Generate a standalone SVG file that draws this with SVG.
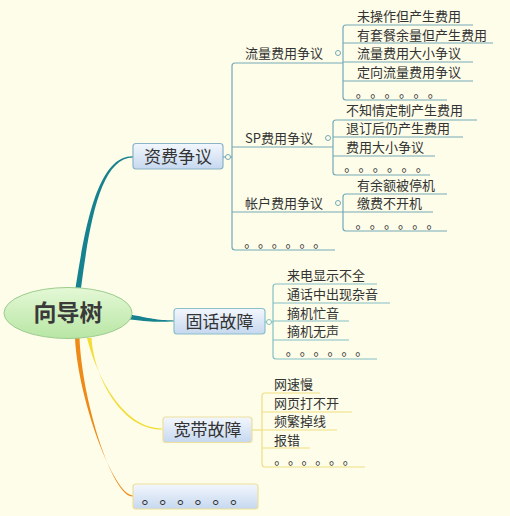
<svg xmlns="http://www.w3.org/2000/svg" width="510" height="516" viewBox="0 0 510 516">
<defs>
<linearGradient id="boxg" x1="0" y1="0" x2="0" y2="1">
<stop offset="0" stop-color="#f3f7fd"/>
<stop offset="1" stop-color="#c6d8ef"/>
</linearGradient>
<linearGradient id="rootg" x1="0" y1="0" x2="0" y2="1">
<stop offset="0" stop-color="#e4f8d6"/>
<stop offset="1" stop-color="#b8e6a4"/>
</linearGradient>
</defs>
<style>
text{font-family:"Microsoft YaHei","Noto Sans CJK SC","Noto Sans",sans-serif;fill:#333}
.t{font-size:13px}
.m{font-size:17px;text-anchor:middle}
.lb{fill:none;stroke:#74a9b8;stroke-width:1.2}
.lg{fill:none;stroke:#83c0c6;stroke-width:1.2}
.ly{fill:none;stroke:#efdf82;stroke-width:1.2}
.box{fill:url(#boxg);stroke-width:1.2}
.knob{fill:#fdfde9;stroke-width:1}
</style>
<rect width="510" height="516" fill="#fdfde9"/>

<g id="connectors">
<path d="M75.5,288 C86,220 99,155.5 133,156.2 L133,157.6 C101,158 90,220 81,288 Z" fill="#17828f"/>
<path d="M130,314.5 C150,318 156,320.3 174,320.4 L174,321.6 C156,322 150,322 130,319.5 Z" fill="#17828f"/>
<path d="M87,338 C97,378 124,428.4 162,428.4 L162,429.6 C122,430 94,378 91.5,338 Z" fill="#f3dc35"/>
<path d="M75,338 C78,400 114,495.4 133,495.4 L133,496.6 C112,497 82,400 79.5,338 Z" fill="#ee8a18"/>
</g>

<g id="root">
<ellipse cx="68" cy="313" rx="64" ry="25.5" fill="url(#rootg)" stroke="#9dcc8e" stroke-width="1"/>
<text x="68" y="321" style="font-size:23px;font-weight:bold;text-anchor:middle;fill:#3a3a3a">向导树</text>
</g>

<g id="fee">
<rect class="box" x="133" y="143.5" width="90" height="25.5" rx="3" stroke="#8cb4c8"/>
<text class="m" x="178" y="162.5">资费争议</text>
<path class="lb" d="M223,157 H232"/>
<circle class="knob" cx="228" cy="157" r="2.5" stroke="#74a9b8"/>
<path class="lb" d="M343,63 H235 Q232,63 232,66 V247 Q232,250 235,250 H335 M232,147 H333 M232,212 H343"/>
</g>

<g id="flow">
<text class="t" x="245" y="58">流量费用争议</text>
<circle class="knob" cx="338" cy="53" r="2.5" stroke="#74a9b8"/>
<path class="lb" d="M473,25 H346 Q343,25 343,28 V97 Q343,100 346,100 H447 M343,43 H493 M343,62 H473 M343,81 H473"/>
<text class="t" x="357" y="21">未操作但产生费用</text>
<text class="t" x="357" y="40">有套餐余量但产生费用</text>
<text class="t" x="357" y="58">流量费用大小争议</text>
<text class="t" x="357" y="77">定向流量费用争议</text>
<text class="t" x="355.8 370.2 384.6 399 413.4 427.8" y="97">。。。。。。</text>
</g>

<g id="sp">
<text class="t" x="245" y="143">SP费用争议</text>
<circle class="knob" cx="328" cy="138" r="2.5" stroke="#74a9b8"/>
<path class="lb" d="M477,120 H336 Q333,120 333,123 V172 Q333,175 336,175 H430 M333,137 H463 M333,156 H435"/>
<text class="t" x="346" y="115">不知情定制产生费用</text>
<text class="t" x="346" y="133">退订后仍产生费用</text>
<text class="t" x="346" y="152">费用大小争议</text>
<text class="t" x="344.2 358.5 372.8 387.1 401.4 415.7" y="171">。。。。。。</text>
</g>

<g id="account">
<text class="t" x="245" y="208">帐户费用争议</text>
<circle class="knob" cx="338" cy="203" r="2.5" stroke="#74a9b8"/>
<path class="lb" d="M447,194 H346 Q343,194 343,197 V228 Q343,231 346,231 H447 M343,212 H433"/>
<text class="t" x="357" y="190">有余额被停机</text>
<text class="t" x="357" y="208">缴费不开机</text>
<text class="t" x="355.5 369.7 383.9 398.1 412.3 426.5" y="228">。。。。。。</text>
</g>

<g id="fee-more">
<text class="t" x="244.2 258 271.8 285.6 299.4 313.2" y="247">。。。。。。</text>
</g>

<g id="fixed">
<rect class="box" x="174" y="308.5" width="91" height="25.5" rx="3" stroke="#8cc0cc"/>
<text class="m" x="219.5" y="327.5">固话故障</text>
<path class="lg" d="M265,322 H273"/>
<circle class="knob" cx="269" cy="322" r="2.5" stroke="#83c0c6"/>
<path class="lg" d="M377,284 H276 Q273,284 273,287 V356 Q273,359 276,359 H377 M273,303 H390 M273,321 H349 M273,340 H349"/>
<text class="t" x="287" y="280">来电显示不全</text>
<text class="t" x="287" y="299">通话中出现杂音</text>
<text class="t" x="287" y="318">摘机忙音</text>
<text class="t" x="287" y="336">摘机无声</text>
<text class="t" x="285.8 299.7 313.6 327.5 341.4 355.3" y="355">。。。。。。</text>
</g>

<g id="broadband">
<rect class="box" x="163" y="417" width="89" height="25.5" rx="3" stroke="#eedf9c"/>
<text class="m" x="207.5" y="436">宽带故障</text>
<path class="ly" d="M252,430 H262"/>
<path class="ly" d="M320,393 H265 Q262,393 262,396 V464 Q262,467 265,467 H365 M262,412 H352 M262,430 H337 M262,448 H310"/>
<text class="t" x="274" y="389">网速慢</text>
<text class="t" x="274" y="408">网页打不开</text>
<text class="t" x="274" y="426">频繁掉线</text>
<text class="t" x="274" y="445">报错</text>
<text class="t" x="274.2 287.9 301.6 315.3 329 342.7" y="464">。。。。。。</text>
</g>

<g id="more">
<rect class="box" x="133" y="484" width="125" height="25" rx="3" stroke="#eedf9c"/>
<text x="141.5 159.2 176.9 194.6 212.3 230" y="504" style="font-size:17.5px">。。。。。。</text>
</g>
</svg>
